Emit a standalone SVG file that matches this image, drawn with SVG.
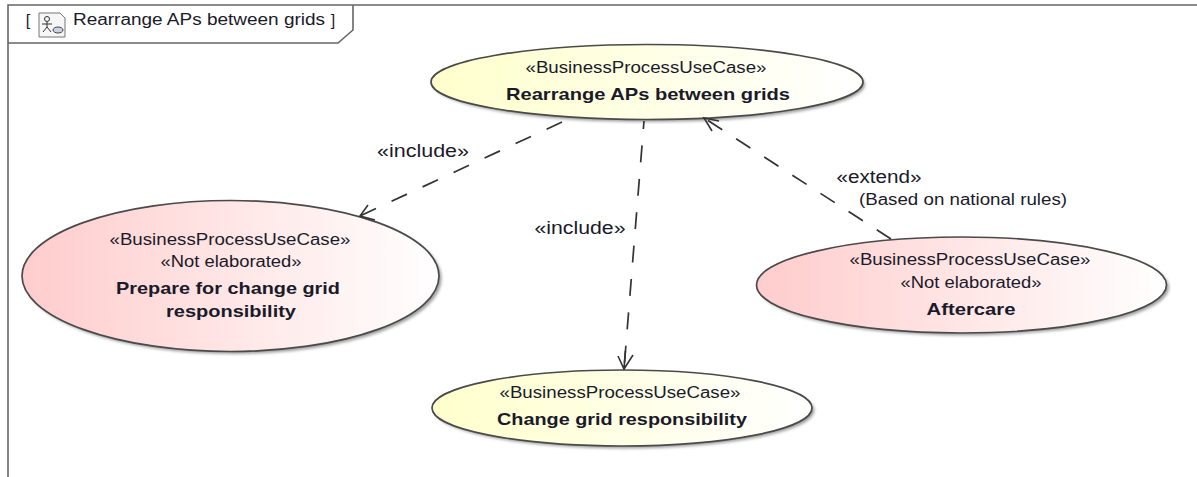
<svg xmlns="http://www.w3.org/2000/svg" width="1197" height="477" viewBox="0 0 1197 477">
<style>
text{font-family:"Liberation Sans",Arial,sans-serif;font-size:16px;fill:#1a1a2a;text-anchor:middle}
.b{font-weight:bold;font-size:17px}
.l{font-size:18px}
.n{font-size:16px;text-anchor:start}
.e{stroke:#4a4a4a;stroke-width:1.7}
.s{fill:#777;opacity:.7;filter:url(#blur)}
.c{fill:none;stroke:#333;stroke-width:1.7;stroke-dasharray:17 16.500}
.a{fill:none;stroke:#333;stroke-width:1.6}
</style>
<defs>
<linearGradient id="y"><stop offset="0" stop-color="#ffffcc"/><stop offset="1" stop-color="#ffffff"/></linearGradient>
<linearGradient id="r"><stop offset="0" stop-color="#ffcccc"/><stop offset="1" stop-color="#ffffff"/></linearGradient>
<filter id="blur" x="-5%" y="-10%" width="110%" height="120%"><feGaussianBlur stdDeviation="1.500"/></filter>
</defs>
<rect width="1197" height="477" fill="#fff"/>
<g id="frame">
<path d="M8 477V5H1197" fill="none" stroke="#666" stroke-width="1.6"/>
<path d="M8 43H338L353 30V5" fill="none" stroke="#666" stroke-width="1.6"/>
<text x="28" y="26">[</text>
<g id="frame-icon" fill="none" stroke="#777" stroke-width="1">
<path d="M39 13H60L65 18V37H39Z" fill="#f6f6f6"/>
<circle cx="47" cy="19" r="2.500" stroke="#333"/>
<path d="M47 22V27M42 24H52M47 27L43 32M47 27L51 32" stroke="#333"/>
<ellipse cx="58" cy="30" rx="5" ry="3" fill="#cdd3e6" stroke="#444"/>
</g>
<text x="73" y="25" style="text-anchor:start" textLength="252" lengthAdjust="spacingAndGlyphs">Rearrange APs between grids</text>
<text x="333" y="26">]</text>
</g>
<g id="uc-main">
<ellipse class="s" cx="649.500" cy="84.500" rx="215.500" ry="37.500"/>
<ellipse class="e" cx="647" cy="82" rx="216" ry="37.500" fill="url(#y)"/>
<text x="646" y="73" textLength="241" lengthAdjust="spacingAndGlyphs">«BusinessProcessUseCase»</text>
<text class="b" x="648" y="100" textLength="284" lengthAdjust="spacingAndGlyphs">Rearrange APs between grids</text>
</g>
<g id="uc-prepare">
<ellipse class="s" cx="233" cy="278.500" rx="208.500" ry="75.500"/>
<ellipse class="e" cx="230.500" cy="276" rx="208.500" ry="75.500" fill="url(#r)"/>
<text x="230" y="245" textLength="241" lengthAdjust="spacingAndGlyphs">«BusinessProcessUseCase»</text>
<text x="231" y="267" textLength="141" lengthAdjust="spacingAndGlyphs">«Not elaborated»</text>
<text class="b" x="228" y="294" textLength="224" lengthAdjust="spacingAndGlyphs">Prepare for change grid</text>
<text class="b" x="231" y="317" textLength="130" lengthAdjust="spacingAndGlyphs">responsibility</text>
</g>
<g id="uc-aftercare">
<ellipse class="s" cx="964" cy="287.500" rx="205" ry="48"/>
<ellipse class="e" cx="961.500" cy="285" rx="205" ry="48" fill="url(#r)"/>
<text x="970" y="265" textLength="241" lengthAdjust="spacingAndGlyphs">«BusinessProcessUseCase»</text>
<text x="971" y="288" textLength="141" lengthAdjust="spacingAndGlyphs">«Not elaborated»</text>
<text class="b" x="971" y="315" textLength="89" lengthAdjust="spacingAndGlyphs">Aftercare</text>
</g>
<g id="uc-change">
<ellipse class="s" cx="624.500" cy="410.500" rx="190" ry="38"/>
<ellipse class="e" cx="622" cy="408" rx="190" ry="38" fill="url(#y)"/>
<text x="620" y="398" textLength="241" lengthAdjust="spacingAndGlyphs">«BusinessProcessUseCase»</text>
<text class="b" x="622" y="425" textLength="250" lengthAdjust="spacingAndGlyphs">Change grid responsibility</text>
</g>
<g id="connectors">
<path class="c" style="stroke-dasharray:17 17.200" d="M562 122L360 216"/>
<path class="a" d="M368 205L360 216L375 220"/>
<path class="c" stroke-dashoffset="9" d="M644 121L624 369"/>
<path class="a" d="M618 356L624 369L633 355M624 369L625.400 351"/>
<path class="c" d="M891 239L704 118"/>
<path class="a" d="M712 131L704 118L719 121"/>
</g>
<g id="labels">
<text class="l" x="423" y="157" textLength="92" lengthAdjust="spacingAndGlyphs">«include»</text>
<text class="l" x="580" y="234" textLength="91" lengthAdjust="spacingAndGlyphs">«include»</text>
<text class="l" x="879" y="183" textLength="85" lengthAdjust="spacingAndGlyphs">«extend»</text>
<text class="n" x="859" y="205" textLength="208" lengthAdjust="spacingAndGlyphs">(Based on national rules)</text>
</g>
</svg>
